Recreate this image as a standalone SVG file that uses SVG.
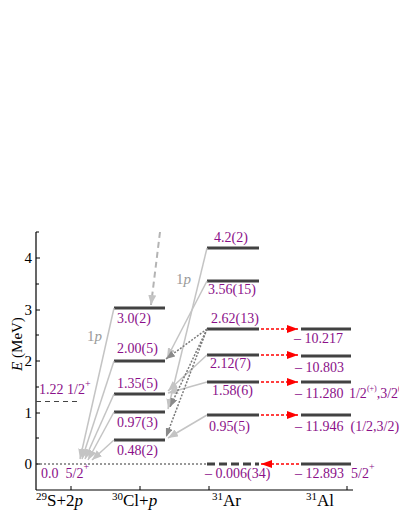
<svg xmlns="http://www.w3.org/2000/svg" width="399" height="516" viewBox="0 0 399 516">
<defs>
<marker id="ag" markerUnits="userSpaceOnUse" markerWidth="10" markerHeight="8" refX="10" refY="4" orient="auto"><path d="M0,0 L10,4 L0,8 z" fill="#c4c4c4"/></marker>
<marker id="ad" markerUnits="userSpaceOnUse" markerWidth="9" markerHeight="7" refX="9" refY="3.5" orient="auto"><path d="M0,0 L9,3.5 L0,7 z" fill="#8a8a8a"/></marker>
<marker id="ar" markerUnits="userSpaceOnUse" markerWidth="11" markerHeight="8" refX="11" refY="4" orient="auto"><path d="M0,0 L11,4 L0,8 z" fill="#ff0000"/></marker>
<style>
.lv{stroke:#424242;stroke-width:3;fill:none}
.ax{stroke:#000;stroke-width:1.2;fill:none}
.tk{stroke:#000;stroke-width:1;fill:none}
.t{font-family:"Liberation Serif","Times New Roman",serif;font-size:14px;fill:#8b1089;white-space:pre}
.k{font-family:"Liberation Serif","Times New Roman",serif;font-size:15px;fill:#000}
.b{font-family:"Liberation Serif","Times New Roman",serif;font-size:17px;fill:#000}
.g{font-family:"Liberation Serif","Times New Roman",serif;font-size:15px;fill:#9a9a9a}
.sg{stroke:#c4c4c4;stroke-width:1.5;fill:none}
.dt{stroke:#7a7a7a;stroke-width:1.5;stroke-dasharray:2 1.5;fill:none}
.rd{stroke:#ff0000;stroke-width:1.5;stroke-dasharray:3 2;fill:none}
</style>
</defs>
<g id="axes">
<line class="ax" x1="36" y1="232" x2="36" y2="490"/>
<line class="ax" x1="36" y1="490" x2="353" y2="490"/>
<path class="tk" d="M36,258h4M36,310h4M36,361h4M36,413h4M36,464h4M36,284h3M36,335h3M36,387h3M36,438h3M36,232h3"/>
<path class="tk" d="M71,490v-4M140,490v-4M209,490v-4M347,490v-4"/>
<text class="k" x="32" y="263" text-anchor="end">4</text>
<text class="k" x="32" y="315" text-anchor="end">3</text>
<text class="k" x="32" y="366" text-anchor="end">2</text>
<text class="k" x="32" y="418" text-anchor="end">1</text>
<text class="k" x="32" y="469" text-anchor="end">0</text>
<text class="k" font-size="16" transform="translate(22,344) rotate(-90)" text-anchor="middle"><tspan font-style="italic">E</tspan> (MeV)</text>
<text class="b" x="36" y="506"><tspan font-size="11" dy="-6">29</tspan><tspan dy="6">S+2</tspan><tspan font-style="italic">p</tspan></text>
<text class="b" x="112" y="506"><tspan font-size="11" dy="-6">30</tspan><tspan dy="6">Cl+</tspan><tspan font-style="italic">p</tspan></text>
<text class="b" x="212" y="506"><tspan font-size="11" dy="-6">31</tspan><tspan dy="6">Ar</tspan></text>
<text class="b" x="306" y="506"><tspan font-size="11" dy="-6">31</tspan><tspan dy="6">Al</tspan></text>
</g>
<g id="S29">
<line x1="36" y1="464" x2="207" y2="464" stroke="#333" stroke-width="1" stroke-dasharray="2 2"/>
<line x1="36" y1="401.5" x2="81" y2="401.5" stroke="#444" stroke-width="1" stroke-dasharray="5 4"/>
<text class="t" x="39" y="394">1.22 1/2<tspan font-size="10" dy="-7">+</tspan></text>
<text class="t" x="41" y="478" xml:space="preserve">0.0  5/2<tspan font-size="10" dy="-8">+</tspan></text>
</g>
<g id="Cl30">
<line class="lv" x1="114" y1="308" x2="165" y2="308"/>
<line class="lv" x1="114" y1="361" x2="165" y2="361"/>
<line class="lv" x1="114" y1="394" x2="165" y2="394"/>
<line class="lv" x1="114" y1="412" x2="165" y2="412"/>
<line class="lv" x1="114" y1="440" x2="165" y2="440"/>
<text class="t" x="117" y="323">3.0(2)</text>
<text class="t" x="117" y="353">2.00(5)</text>
<text class="t" x="117" y="388">1.35(5)</text>
<text class="t" x="117" y="427">0.97(3)</text>
<text class="t" x="117" y="455">0.48(2)</text>
</g>
<g id="Ar31">
<line class="lv" x1="207" y1="248" x2="259" y2="248"/>
<line class="lv" x1="207" y1="281" x2="259" y2="281"/>
<line class="lv" x1="207" y1="329" x2="259" y2="329"/>
<line class="lv" x1="207" y1="355" x2="259" y2="355"/>
<line class="lv" x1="207" y1="382" x2="259" y2="382"/>
<line class="lv" x1="207" y1="415" x2="259" y2="415"/>
<line class="lv" x1="207" y1="464" x2="259" y2="464" stroke-dasharray="8 4"/>
<text class="t" x="214" y="242">4.2(2)</text>
<text class="t" x="208" y="294">3.56(15)</text>
<text class="t" x="211" y="323">2.62(13)</text>
<text class="t" x="210" y="368">2.12(7)</text>
<text class="t" x="212" y="395">1.58(6)</text>
<text class="t" x="209" y="431">0.95(5)</text>
<text class="t" x="205" y="478">– 0.006(34)</text>
</g>
<g id="Al31">
<line class="lv" x1="301" y1="329" x2="351" y2="329"/>
<line class="lv" x1="301" y1="356" x2="351" y2="356"/>
<line class="lv" x1="301" y1="382" x2="351" y2="382"/>
<line class="lv" x1="301" y1="415" x2="351" y2="415"/>
<line class="lv" x1="301" y1="464" x2="351" y2="464"/>
<text class="t" x="294" y="343">– 10.217</text>
<text class="t" x="295" y="372">– 10.803</text>
<text class="t" x="295" y="398" xml:space="preserve">– 11.280 <tspan dx="2">1/2</tspan><tspan font-size="8" dy="-7">(+)</tspan><tspan dy="7">,3/2</tspan><tspan font-size="8" dy="-7">(+)</tspan></text>
<text class="t" x="295" y="431" xml:space="preserve">– 11.946  (1/2,3/2)</text>
<text class="t" x="295" y="478" xml:space="preserve">– 12.893  5/2<tspan font-size="10" dy="-8">+</tspan></text>
</g>
<g id="connectors">
<line class="sg" x1="114" y1="308" x2="80" y2="459" marker-end="url(#ag)"/>
<line class="sg" x1="114" y1="361" x2="82" y2="459" marker-end="url(#ag)"/>
<line class="sg" x1="114" y1="394" x2="85" y2="459" marker-end="url(#ag)"/>
<line class="sg" x1="114" y1="412" x2="88" y2="460" marker-end="url(#ag)"/>
<line class="sg" x1="114" y1="440" x2="92" y2="460" marker-end="url(#ag)"/>
<line x1="160" y1="232" x2="151" y2="305" stroke="#b4b4b4" stroke-width="2" stroke-dasharray="6 4" marker-end="url(#ag)"/>
<line class="sg" x1="207" y1="248" x2="168" y2="409" marker-end="url(#ag)"/>
<line class="sg" x1="207" y1="281" x2="167" y2="358" marker-end="url(#ag)"/>
<line class="sg" x1="207" y1="355" x2="168" y2="391" marker-end="url(#ag)"/>
<line class="sg" x1="207" y1="382" x2="168" y2="393" marker-end="url(#ag)"/>
<line class="sg" x1="207" y1="415" x2="168" y2="438" marker-end="url(#ag)"/>
<line class="dt" x1="207" y1="329" x2="166" y2="359" marker-end="url(#ad)"/>
<line class="dt" x1="207" y1="329" x2="170" y2="407" marker-end="url(#ad)"/>
<line class="dt" x1="207" y1="329" x2="166" y2="437" marker-end="url(#ad)"/>
<line class="rd" x1="261" y1="329" x2="298" y2="329" marker-end="url(#ar)"/>
<line class="rd" x1="261" y1="355" x2="298" y2="355" marker-end="url(#ar)"/>
<line class="rd" x1="261" y1="382" x2="298" y2="382" marker-end="url(#ar)"/>
<line class="rd" x1="261" y1="415" x2="298" y2="415" marker-end="url(#ar)"/>
<line class="rd" x1="299" y1="464" x2="261" y2="464" marker-end="url(#ar)"/>
<text class="g" x="87" y="341">1<tspan font-style="italic">p</tspan></text>
<text class="g" x="176" y="284">1<tspan font-style="italic">p</tspan></text>
</g>
</svg>
